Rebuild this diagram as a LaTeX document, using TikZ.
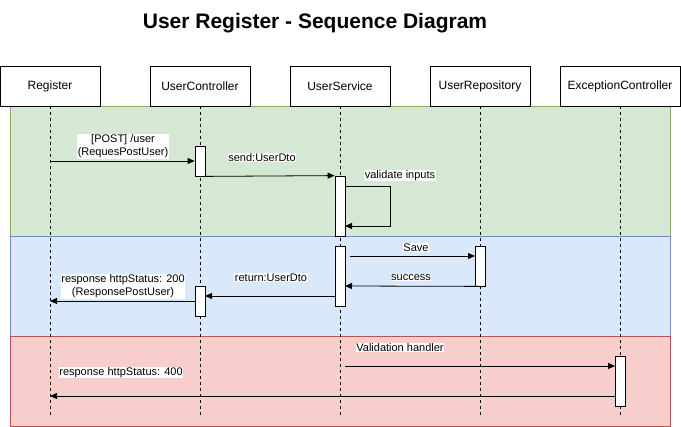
\documentclass[tikz,border=0pt]{standalone}
\usepackage{fontspec}
\setmainfont{Liberation Sans}
\usetikzlibrary{arrows.meta}
\definecolor{gfill}{HTML}{D5E8D4}\definecolor{gline}{HTML}{82B366}
\definecolor{bfill}{HTML}{DAE8FC}\definecolor{bline}{HTML}{6C8EBF}
\definecolor{rfill}{HTML}{F8CECC}\definecolor{rline}{HTML}{B85450}
\begin{document}
\begin{tikzpicture}[x=1pt,y=-1pt,
  part/.style={draw=black,fill=white,minimum width=100pt,minimum height=40pt,inner sep=0pt,font=\fontsize{12}{14}\selectfont,line width=0.8pt},
  act/.style={draw=black,fill=white,minimum width=10pt,inner sep=0pt,line width=0.8pt},
  life/.style={dash pattern=on 3pt off 3pt,line width=0.8pt},
  msg/.style={line width=0.8pt,-{Triangle[length=7pt,width=6pt]}},
  lbl/.style={fill=white,inner sep=0.5pt,font=\fontsize{11}{13}\selectfont,align=center},
  region/.style={line width=0.8pt}]
\useasboundingbox (0,0) rectangle (681,427);
% regions
\draw[region,fill=gfill,draw=gline] (10,106) rectangle (670,236);
\draw[region,fill=bfill,draw=bline] (10,236) rectangle (670,336);
\draw[region,fill=rfill,draw=rline] (10,336) rectangle (670,426);
% title
\node[anchor=base] (title) at (315,29) {\fontsize{21}{24}\selectfont\bfseries User Register - Sequence Diagram};
% participants
\node[part] (reg) at (50,86) {Register};
\node[part] (uc) at (200,86) {UserController};
\node[part] (us) at (340,86) {UserService};
\node[part] (ur) at (480,86) {UserRepository};
\node[part,minimum width=120pt] (ex) at (620,86) {ExceptionController};
% lifelines
\foreach \p/\x in {reg/50,uc/200,us/340,ur/480,ex/620}{
  \coordinate (\p end) at (\x,415);
  \draw[life] (\p.south) -- (\p end);
}
% activations
\node[act,minimum height=30pt] (ucA) at (200,161) {};
\node[act,minimum height=60pt] (usA) at (340,206) {};
\node[act,minimum height=60pt] (usB) at (340,276) {};
\node[act,minimum height=40pt] (urA) at (480,266) {};
\node[act,minimum height=30pt] (ucB) at (200,301) {};
\node[act,minimum height=50pt] (exA) at (620,381) {};
% message end points
\coordinate (m1s) at (50,161);
\coordinate (v1) at (345,186);
\coordinate (v2) at (390,186);
\coordinate (v3) at (390,226);
\coordinate (v4) at (345,226);
\coordinate (s1) at (350,256);
\coordinate (s2) at (475,256);
\coordinate (k1) at (345,286);
\coordinate (r1) at (335,296);
\coordinate (r2) at (205,296);
\coordinate (p2) at (50,301);
\coordinate (h1) at (345,366);
\coordinate (h2) at (615,366);
\coordinate (e1) at (615,396);
\coordinate (e2) at (50,396);
% messages
\draw[msg] (m1s) -- (ucA.west);
\draw[msg] (ucA.south east) -- (usA.north west);
\draw[msg] (v1) -- (v2) -- (v3) -- (v4);
\draw[msg] (s1) -- (s2);
\draw[msg] (urA.south) -- (k1);
\draw[msg] (r1) -- (r2);
\draw[msg] (ucB.west) -- (p2);
\draw[msg] (h1) -- (h2);
\draw[msg] (e1) -- (e2);
% labels
\node[lbl] (l1) at (123,146.5) {[POST] /user\\(RequesPostUser)};
\node[lbl] (l2) at (262,157.5) {send:UserDto};
\node[lbl] (l3) at (400,175.5) {validate inputs};
\node[lbl] (l4) at (416,247.5) {Save};
\node[lbl] (l5) at (411,277.5) {success};
\node[lbl] (l6) at (271,277.5) {return:UserDto};
\node[lbl] (l7) at (123,286.5) {response httpStatus: 200\\(ResponsePostUser)};
\node[lbl] (l8) at (400,347.5) {Validation handler};
\node[lbl] (l9) at (121,372.5) {response httpStatus: 400};
\end{tikzpicture}
\end{document}
